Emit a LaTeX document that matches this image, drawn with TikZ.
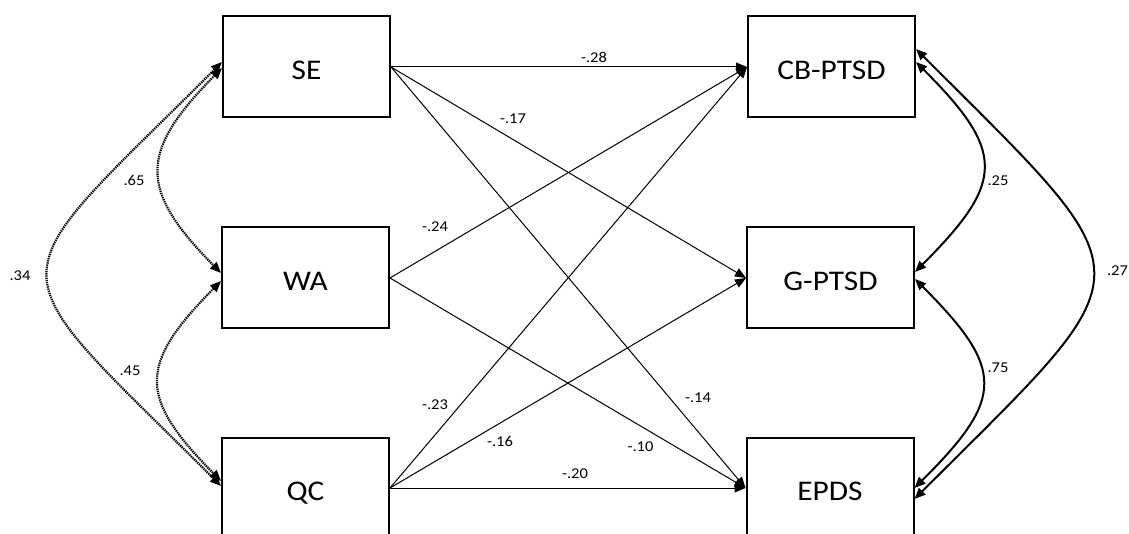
\documentclass[tikz,border=0pt]{standalone}
\usepackage{fontspec}
\setmainfont{Carlito}[FakeStretch=1.1]
\usetikzlibrary{arrows.meta,calc}
\begin{document}
\begin{tikzpicture}[x=1pt,y=-1pt,
  box/.style={draw,line width=2pt,minimum width=167pt,minimum height=101pt,inner sep=0pt,
    font=\fontsize{28.5}{30}\selectfont,text height=25pt,text depth=0pt},
  lbl/.style={inner sep=0pt,font=\fontsize{15}{17}\selectfont},
  reg/.style={line width=1pt,-{Triangle[length=11pt,width=9pt]}},
  cov/.style={line width=2pt,{Triangle[length=11pt,width=9pt]}-{Triangle[length=11pt,width=9pt]}},
  covd/.style={line width=2.2pt,dash pattern=on 1.3pt off 0.9pt,{Triangle[length=11pt,width=9pt]}-{Triangle[length=11pt,width=9pt]}}
]
\fill[white] (0,0) rectangle (1129,534);
\useasboundingbox (0,0) rectangle (1129,534);
\clip (0,0) rectangle (1129,534);

\node[box] (SE) at (306.5,67) {SE};
\node[box] (WA) at (305.5,278) {WA};
\node[box] (QC) at (305.5,488) {QC};
\node[box] (CB) at (831.5,67) {CB-PTSD};
\node[box] (G) at (830.5,278) {G-PTSD};
\node[box] (EPDS) at (830,488) {EPDS};

% regressions
\draw[reg] (SE.east) -- (CB.west);
\draw[reg] (SE.east) -- (G.west);
\draw[reg] (SE.east) -- (EPDS.west);
\draw[reg] (WA.east) -- (CB.west);
\draw[reg] (WA.east) -- (EPDS.west);
\draw[reg] (QC.east) -- (CB.west);
\draw[reg] (QC.east) -- (G.west);
\draw[reg] (QC.east) -- (EPDS.west);

% left covariances
\draw[covd] ($(SE.west)+(0,1)$) .. controls (139,152) and (138,189) .. ($(WA.west)+(0,-5)$);
\draw[covd] ($(WA.west)+(0,3)$) .. controls (138,365) and (138,397) .. ($(QC.west)+(0,-7)$);
\draw[covd] ($(SE.west)+(0,-5)$) .. controls (-9,293) and (-10,255) .. ($(QC.west)+(0,-2)$);

% right covariances
\draw[cov] ($(CB.east)+(0,-5)$) .. controls (1006,152) and (1005,182) .. ($(G.east)+(0,-6)$);
\draw[cov] ($(G.east)+(0,1)$) .. controls (1005,369) and (1005,398) .. ($(EPDS.east)+(0,0)$);
\draw[cov] ($(CB.east)+(0,-18)$) .. controls (1152,285) and (1151,263) .. ($(EPDS.east)+(0,11)$);

% labels
\node[lbl] (l28) at (594,57) {-.28};
\node[lbl] (l17) at (513,119) {-.17};
\node[lbl] (l24) at (435,226.5) {-.24};
\node[lbl] (l23) at (435,405) {-.23};
\node[lbl] (l16) at (500,441) {-.16};
\node[lbl] (l14) at (698,398) {-.14};
\node[lbl] (l10) at (640.5,447) {-.10};
\node[lbl] (l20) at (575,474) {-.20};
\node[lbl] (l65) at (134,180.5) {.65};
\node[lbl] (l45) at (130,371) {.45};
\node[lbl] (l34) at (20,276) {.34};
\node[lbl] (l25) at (998,180.5) {.25};
\node[lbl] (l75) at (998,368) {.75};
\node[lbl] (l27) at (1117.5,271) {.27};
\end{tikzpicture}
\end{document}
